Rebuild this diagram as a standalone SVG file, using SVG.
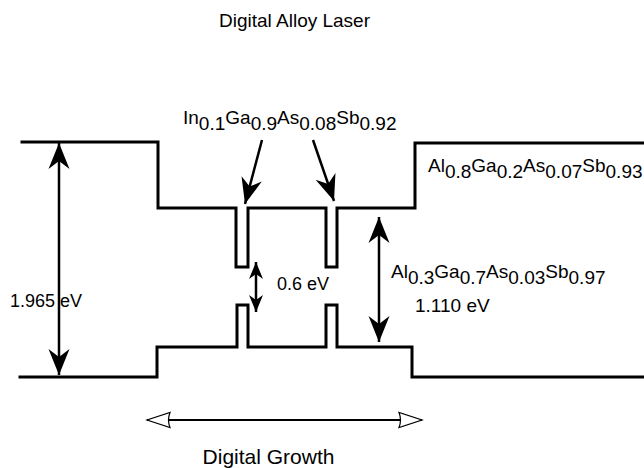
<svg xmlns="http://www.w3.org/2000/svg" width="644" height="468" viewBox="0 0 644 468">
<style>
text{font-family:"Liberation Sans",Arial,Helvetica,sans-serif;fill:#000}
.band{fill:none;stroke:#000;stroke-width:3;stroke-linejoin:miter;stroke-linecap:square}
.arr{fill:none;stroke:#000;stroke-width:2.5}
.big{marker-start:url(#bigHead);marker-end:url(#bigHead)}
.one{marker-end:url(#bigHead)}
.small{marker-start:url(#smallHead);marker-end:url(#smallHead)}
.open{fill:none;stroke:#000;stroke-width:2;marker-start:url(#openHead);marker-end:url(#openHead)}
</style>
<defs>
<marker id="bigHead" markerUnits="userSpaceOnUse" viewBox="0 -11 26 22" refX="26" refY="0" markerWidth="26" markerHeight="22" orient="auto-start-reverse">
<path d="M0,-10.5 L26,0 L0,10.5 L8,0 Z" fill="#000"/>
</marker>
<marker id="smallHead" markerUnits="userSpaceOnUse" viewBox="0 -8 17 16" refX="17" refY="0" markerWidth="17" markerHeight="16" orient="auto-start-reverse">
<path d="M0,-7 L17,0 L0,7 L5,0 Z" fill="#000"/>
</marker>
<marker id="openHead" markerUnits="userSpaceOnUse" viewBox="-2 -10 27 20" refX="23" refY="0" markerWidth="27" markerHeight="20" orient="auto-start-reverse">
<path d="M0,-7.5 Q3,0 0,7.5 L23,0 Z" fill="#fff" stroke="#000" stroke-width="1.2"/>
</marker>
</defs>

<text id="title" x="294.5" y="27" font-size="19" text-anchor="middle">Digital Alloy Laser</text>

<g id="conduction-band">
<path class="band" d="M22,142 H158 V208 H236 V267 H248 V208 H326 V267 H337 V208 H415 V143 H644"/>
</g>
<g id="valence-band">
<path class="band" d="M20,377 H157 V347 H237 V305 H248 V347 H326 V305 H337 V347 H412 V377 H644"/>
</g>

<g id="connectors">
<line class="arr big" x1="59" y1="143" x2="59" y2="375"/>
<line class="arr small" x1="256" y1="262" x2="256" y2="312"/>
<line class="arr big" x1="379" y1="217" x2="379" y2="342"/>
<line class="arr one" x1="262" y1="140" x2="245" y2="204"/>
<line class="arr one" x1="313" y1="140" x2="334" y2="201"/>
<line class="open" x1="147" y1="420" x2="422" y2="420"/>
</g>

<g id="well-label">
<text x="183" y="124" font-size="19">In<tspan dy="6">0.1</tspan><tspan dy="-6">Ga</tspan><tspan dy="6">0.9</tspan><tspan dy="-6">As</tspan><tspan dy="6">0.08</tspan><tspan dy="-6">Sb</tspan><tspan dy="6">0.92</tspan></text>
</g>
<g id="barrier-label">
<text x="428" y="172" font-size="19">Al<tspan dy="6">0.8</tspan><tspan dy="-6">Ga</tspan><tspan dy="6">0.2</tspan><tspan dy="-6">As</tspan><tspan dy="6">0.07</tspan><tspan dy="-6">Sb</tspan><tspan dy="6">0.93</tspan></text>
</g>
<g id="cladding-label">
<text x="391" y="278" font-size="19">Al<tspan dy="6">0.3</tspan><tspan dy="-6">Ga</tspan><tspan dy="6">0.7</tspan><tspan dy="-6">As</tspan><tspan dy="6">0.03</tspan><tspan dy="-6">Sb</tspan><tspan dy="6">0.97</tspan></text>
<text x="415" y="312" font-size="19">1.110 eV</text>
</g>
<g id="gap-labels">
<text x="10" y="307" font-size="18">1.965 eV</text>
<text x="277" y="290" font-size="18">0.6 eV</text>
</g>
<text id="growth-label" x="268.5" y="464" font-size="21" text-anchor="middle">Digital Growth</text>
</svg>
